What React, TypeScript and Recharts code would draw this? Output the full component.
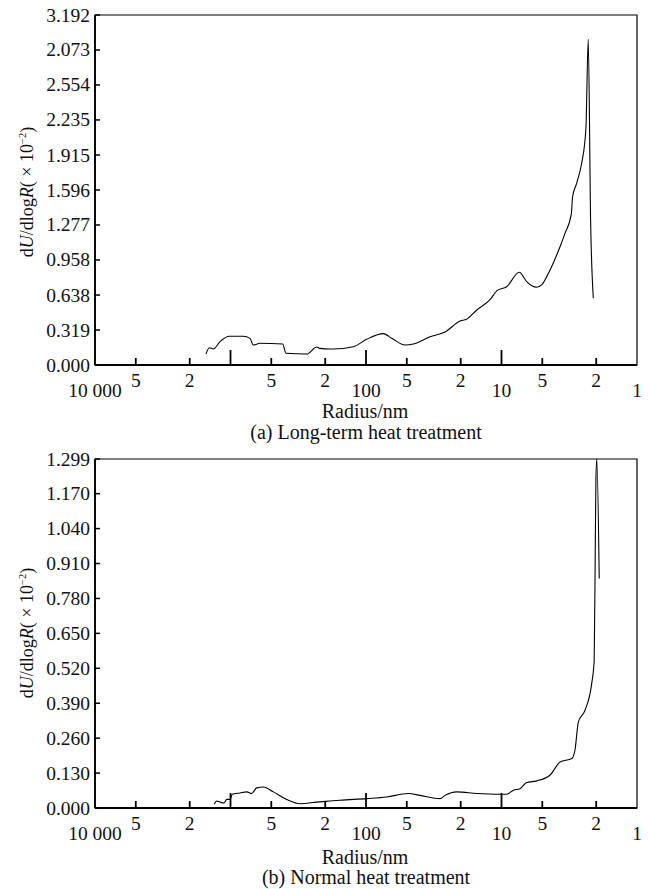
import React from "react";
import { LineChart, Line, XAxis, YAxis, ReferenceArea } from "recharts";

// radius (nm) on a reversed log axis
const xTicks = [1, 2, 5, 10, 20, 50, 100, 200, 500, 1000, 2000, 5000, 10000];
const xTickLabels = ["1", "2", "5", "10", "2", "5", "100", "2", "5", "", "2", "5", "10 000"];
const majorTicks = [1, 10, 100, 1000, 10000];

// (a) long-term heat treatment
const radiusA = [
  1517, 1434, 1340, 1195, 1021, 804, 718, 679, 606, 412, 389, 274, 231, 219, 184, 174, 124, 99,
  74.5, 64.6, 51.5, 44.7, 33.7, 26.1, 20.2, 18.1, 15.2, 12.2, 10.8, 9.16, 7.39, 6.52, 5.5, 5.05,
  4.64, 3.7, 3.4, 3.05, 2.99, 2.79, 2.56, 2.42, 2.38, 2.29, 2.2, 2.1,
];
const valueA = [
  0.1, 0.158, 0.146, 0.213, 0.262, 0.262, 0.243, 0.182, 0.198, 0.192, 0.107, 0.1, 0.164, 0.152,
  0.146, 0.146, 0.167, 0.234, 0.286, 0.243, 0.182, 0.192, 0.258, 0.301, 0.401, 0.417, 0.502, 0.593,
  0.678, 0.714, 0.846, 0.76, 0.709, 0.73, 0.806, 1.079, 1.201, 1.38, 1.53, 1.657, 1.84, 2.05, 2.17,
  2.97, 1.32, 0.608,
];
const yTicksA = [0, 0.319, 0.638, 0.958, 1.277, 1.596, 1.915, 2.235, 2.554, 2.873, 3.192];
const yLabelsA = ["0.000", "0.319", "0.638", "0.958", "1.277", "1.596", "1.915", "2.235", "2.554", "2.073", "3.192"];

// (b) normal heat treatment
const radiusB = [
  1318, 1264, 1195, 1117, 1066, 1009, 970, 851, 759, 698, 641, 573, 483, 385, 307, 231, 185, 156,
  99, 70.3, 48.7, 39.9, 28.4, 26.1, 21.4, 15.2, 10.3, 9.16, 8.18, 7.3, 6.52, 5.5, 4.39, 3.7, 3.03,
  2.87, 2.71, 2.42, 2.16, 2.07, 2.03, 2.01, 1.98, 1.9,
];
const valueB = [
  0.0138, 0.026, 0.022, 0.0186, 0.032, 0.032, 0.051, 0.056, 0.06, 0.054, 0.075, 0.078, 0.06, 0.032,
  0.016, 0.022, 0.026, 0.029, 0.035, 0.041, 0.054, 0.047, 0.035, 0.047, 0.06, 0.054, 0.051, 0.051,
  0.066, 0.072, 0.095, 0.101, 0.122, 0.171, 0.184, 0.215, 0.32, 0.364, 0.463, 0.55, 0.997, 1.22,
  1.299, 0.854,
];
const yTicksB = [0, 0.13, 0.26, 0.39, 0.52, 0.65, 0.78, 0.91, 1.04, 1.17, 1.299];
const yLabelsB = ["0.000", "0.130", "0.260", "0.390", "0.520", "0.650", "0.780", "0.910", "1.040", "1.170", "1.299"];

const font = "'Liberation Serif', 'Times New Roman', serif";

const XTick = (props: any) => {
  const { x, y, payload } = props;
  const v = payload.value;
  const i = xTicks.indexOf(v);
  const major = majorTicks.includes(v);
  const len = major ? 15 : 7;
  return (
    <g>
      {v !== 1 && v !== 10000 && (
        <line x1={x} x2={x} y1={y} y2={y - len} stroke="#000" strokeWidth={1.8} />
      )}
      <text x={x} y={y + (major ? 32 : 22)} textAnchor="middle" fontFamily={font} fontSize={19.5} fill="#111">
        {xTickLabels[i]}
      </text>
    </g>
  );
};

const makeYTick = (ticks: number[], labels: string[]) => (props: any) => {
  const { x, y, payload } = props;
  const i = ticks.indexOf(payload.value);
  return (
    <g>
      <line x1={x} x2={x + 5} y1={y} y2={y} stroke="#000" strokeWidth={1.5} />
      <text x={x - 5} y={y} dy={6.5} textAnchor="end" fontFamily={font} fontSize={19.5} fill="#111">
        {labels[i]}
      </text>
    </g>
  );
};

function Panel({
  radius,
  values,
  yTicks,
  yLabels,
  height,
  top,
  bottom,
}: {
  radius: number[];
  values: number[];
  yTicks: number[];
  yLabels: string[];
  height: number;
  top: number;
  bottom: number;
}) {
  const data = radius.map((r, i) => ({ r, v: values[i] }));
  const yMax = yTicks[yTicks.length - 1];
  return (
    <LineChart width={648} height={height} data={data} margin={{ top, right: 11, bottom, left: 0 }}>
      <XAxis
        dataKey="r"
        type="number"
        scale="log"
        domain={[1, 10000]}
        reversed
        ticks={xTicks}
        interval={0}
        tickSize={0}
        tickMargin={0}
        height={30}
        tick={<XTick />}
        axisLine={{ stroke: "#000", strokeWidth: 1.8 }}
      />
      <YAxis
        type="number"
        domain={[0, yMax]}
        ticks={yTicks}
        interval={0}
        width={95}
        tickSize={0}
        tickMargin={0}
        tick={makeYTick(yTicks, yLabels)}
        axisLine={{ stroke: "#000", strokeWidth: 1.8 }}
      />
      <ReferenceArea x1={1} x2={10000} y1={0} y2={yMax} fill="none" stroke="#000" strokeWidth={1.2} ifOverflow="visible" />
      <Line dataKey="v" type="monotone" stroke="#000" strokeWidth={1.1} dot={false} isAnimationActive={false} />
    </LineChart>
  );
}

const textStyle: React.CSSProperties = {
  position: "absolute",
  fontFamily: font,
  fontSize: 20,
  color: "#111",
  whiteSpace: "nowrap",
  lineHeight: 1,
  transform: "translate(-50%, -50%)",
};

const YTitle = ({ cy }: { cy: number }) => (
  <div style={{ ...textStyle, fontSize: 18, left: 27, top: cy, transform: "translate(-50%, -50%) rotate(-90deg)" }}>
    d<i>U</i>/dlog<i>R</i>( × 10
    <sup style={{ fontSize: 10.5, verticalAlign: 0, position: "relative", top: -7 }}>−2</sup>)
  </div>
);

export default function App() {
  return (
    <div style={{ position: "absolute", left: 0, top: 0, width: 648, height: 889, background: "#fff", overflow: "hidden" }}>
      <div style={{ position: "absolute", left: 0, top: 0 }}>
        <Panel radius={radiusA} values={valueA} yTicks={yTicksA} yLabels={yLabelsA} height={440} top={15} bottom={45} />
      </div>
      <div style={{ position: "absolute", left: 0, top: 440 }}>
        <Panel radius={radiusB} values={valueB} yTicks={yTicksB} yLabels={yLabelsB} height={449} top={19} bottom={51} />
      </div>
      <YTitle cy={192} />
      <YTitle cy={633} />
      <div style={{ ...textStyle, left: 365, top: 411 }}>Radius/nm</div>
      <div style={{ ...textStyle, left: 366, top: 432 }}>(a) Long-term heat treatment</div>
      <div style={{ ...textStyle, left: 365, top: 857 }}>Radius/nm</div>
      <div style={{ ...textStyle, left: 366, top: 877 }}>(b) Normal heat treatment</div>
    </div>
  );
}
